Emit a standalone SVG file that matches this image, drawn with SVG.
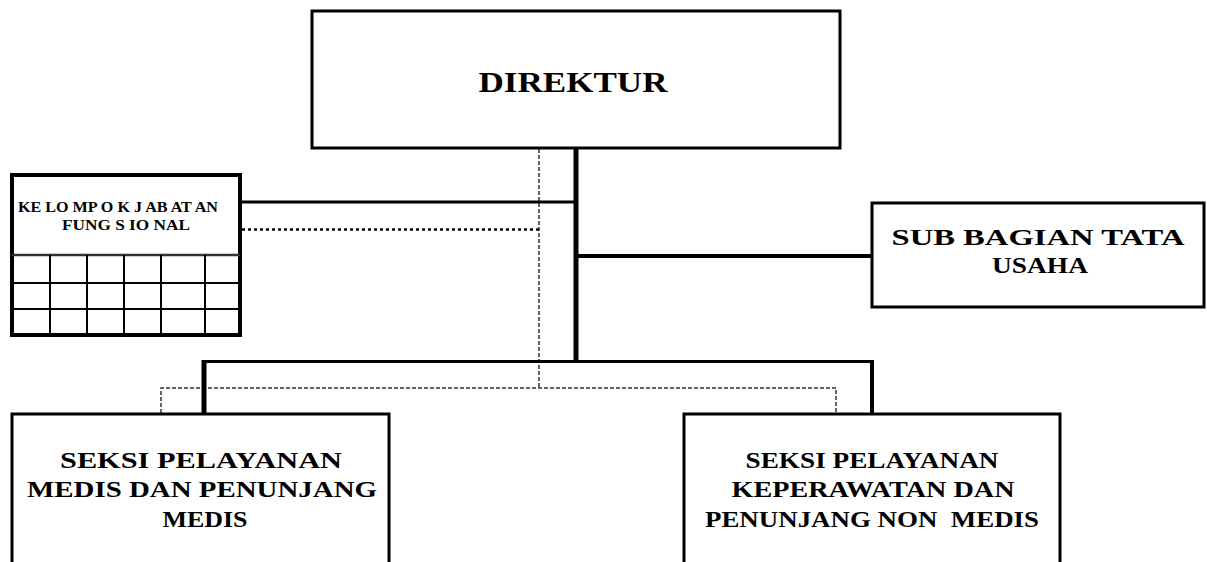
<svg xmlns="http://www.w3.org/2000/svg" width="1207" height="562" viewBox="0 0 1207 562">
<style>
.box{fill:#fff;stroke:#000;stroke-width:3}
.t{font-family:"Liberation Serif","Times New Roman",serif;font-weight:bold;fill:#000;text-anchor:middle}
.solid{stroke:#000;fill:none}
.dash{stroke:#333;stroke-width:1.5;stroke-dasharray:4 2;fill:none}
.dot{stroke:#000;stroke-width:2.5;stroke-dasharray:3 3;fill:none}
.grid{stroke:#000;stroke-width:2;fill:none}
</style>
<rect width="1207" height="562" fill="#fff"/>
<g id="connectors">
<line class="dash" x1="539" y1="149" x2="539" y2="388"/>
<polyline class="dash" points="161,413 161,388 836,388 836,413"/>
<line class="solid" stroke-width="5" x1="576" y1="148" x2="576" y2="362"/>
<line class="solid" stroke-width="3" x1="240" y1="202" x2="576" y2="202"/>
<line class="dot" x1="242" y1="229.5" x2="539" y2="229.5"/>
<line class="solid" stroke-width="4" x1="576" y1="256" x2="872" y2="256"/>
<line class="solid" stroke-width="3" x1="202" y1="361.5" x2="874" y2="361.5"/>
<line class="solid" stroke-width="5" x1="204" y1="360" x2="204" y2="413"/>
<line class="solid" stroke-width="4" x1="872" y1="360" x2="872" y2="413"/>
</g>
<g id="direktur">
<rect class="box" x="312" y="11" width="528" height="137"/>
<text class="t" x="573" y="92" font-size="30" textLength="189" lengthAdjust="spacingAndGlyphs">DIREKTUR</text>
</g>
<g id="kelompok-jabatan-fungsional">
<rect x="12" y="175" width="228" height="160" fill="#fff" stroke="#000" stroke-width="4"/>
<line x1="12" y1="255" x2="240" y2="255" stroke="#333" stroke-width="2.5"/>
<line class="grid" x1="12" y1="283" x2="240" y2="283"/>
<line class="grid" x1="12" y1="309" x2="240" y2="309"/>
<line class="grid" x1="50" y1="255" x2="50" y2="335"/>
<line class="grid" x1="87" y1="255" x2="87" y2="335"/>
<line class="grid" x1="124" y1="255" x2="124" y2="335"/>
<line class="grid" x1="161" y1="255" x2="161" y2="335"/>
<line class="grid" x1="205" y1="255" x2="205" y2="335"/>
<text class="t" x="118" y="212" font-size="14" textLength="200" lengthAdjust="spacingAndGlyphs">KE LO MP O K J AB AT AN</text>
<text class="t" x="126" y="230" font-size="14" textLength="128" lengthAdjust="spacingAndGlyphs">FUNG S IO NAL</text>
</g>
<g id="sub-bagian-tata-usaha">
<rect class="box" x="872" y="203" width="332" height="104"/>
<text class="t" x="1038" y="245" font-size="24" textLength="293" lengthAdjust="spacingAndGlyphs">SUB BAGIAN TATA</text>
<text class="t" x="1040" y="273" font-size="24" textLength="96" lengthAdjust="spacingAndGlyphs">USAHA</text>
</g>
<g id="seksi-medis">
<rect class="box" x="12" y="414" width="377" height="160"/>
<text class="t" x="201" y="468" font-size="24" textLength="282" lengthAdjust="spacingAndGlyphs">SEKSI PELAYANAN</text>
<text class="t" x="202" y="497" font-size="24" textLength="350" lengthAdjust="spacingAndGlyphs">MEDIS DAN PENUNJANG</text>
<text class="t" x="205" y="527" font-size="24" textLength="85" lengthAdjust="spacingAndGlyphs">MEDIS</text>
</g>
<g id="seksi-keperawatan">
<rect class="box" x="684" y="414" width="376" height="160"/>
<text class="t" x="872" y="468" font-size="23" textLength="253" lengthAdjust="spacingAndGlyphs">SEKSI PELAYANAN</text>
<text class="t" x="873" y="497" font-size="23" textLength="283" lengthAdjust="spacingAndGlyphs">KEPERAWATAN DAN</text>
<text class="t" x="872" y="527" font-size="23" textLength="334" lengthAdjust="spacingAndGlyphs" xml:space="preserve">PENUNJANG NON  MEDIS</text>
</g>
</svg>
